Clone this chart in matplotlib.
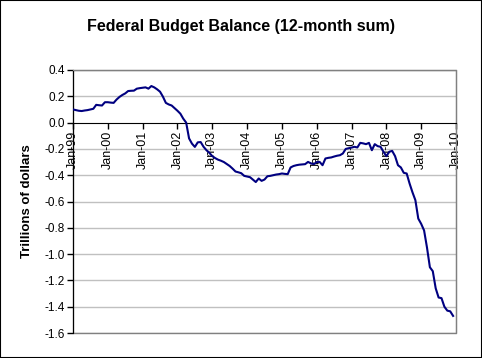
import matplotlib.pyplot as plt
from matplotlib.patches import Rectangle

plt.rcParams['font.family'] = ['Liberation Sans', 'DejaVu Sans']

# 12-month rolling sum of the federal budget balance, trillions of dollars, Jan-99 .. Dec-09
bal_1999 = [0.10, 0.095, 0.09, 0.088, 0.092, 0.095, 0.10, 0.105, 0.135, 0.132, 0.13, 0.155]
bal_2000 = [0.155, 0.152, 0.15, 0.175, 0.195, 0.21, 0.222, 0.24, 0.242, 0.243, 0.258, 0.262]
bal_2001 = [0.265, 0.268, 0.258, 0.278, 0.268, 0.253, 0.235, 0.197, 0.15, 0.138, 0.13, 0.11]
bal_2002 = [0.09, 0.068, 0.03, 0.0, -0.12, -0.16, -0.185, -0.15, -0.148, -0.184, -0.21, -0.23]
bal_2003 = [-0.255, -0.27, -0.282, -0.29, -0.30, -0.315, -0.33, -0.35, -0.372, -0.378, -0.385, -0.405]
bal_2004 = [-0.41, -0.415, -0.433, -0.452, -0.425, -0.443, -0.433, -0.408, -0.405, -0.40, -0.395, -0.392]
bal_2005 = [-0.387, -0.39, -0.392, -0.341, -0.33, -0.324, -0.32, -0.318, -0.316, -0.299, -0.31, -0.316]
bal_2006 = [-0.30, -0.299, -0.324, -0.273, -0.268, -0.265, -0.258, -0.252, -0.248, -0.235, -0.20, -0.195]
bal_2007 = [-0.19, -0.184, -0.189, -0.154, -0.158, -0.164, -0.154, -0.21, -0.164, -0.179, -0.184, -0.222]
bal_2008 = [-0.255, -0.222, -0.215, -0.255, -0.324, -0.341, -0.382, -0.387, -0.463, -0.53, -0.59, -0.73]
bal_2009 = [-0.77, -0.82, -0.95, -1.10, -1.13, -1.26, -1.33, -1.335, -1.40, -1.43, -1.435, -1.47]

balance = (bal_1999 + bal_2000 + bal_2001 + bal_2002 + bal_2003 + bal_2004
           + bal_2005 + bal_2006 + bal_2007 + bal_2008 + bal_2009)
months = list(range(len(balance)))

year_labels = ["Jan-99", "Jan-00", "Jan-01", "Jan-02", "Jan-03", "Jan-04",
               "Jan-05", "Jan-06", "Jan-07", "Jan-08", "Jan-09", "Jan-10"]
y_ticks = [0.4, 0.2, 0.0, -0.2, -0.4, -0.6, -0.8, -1.0, -1.2, -1.4, -1.6]

fig = plt.figure(figsize=(4.82, 3.58), dpi=100)
ax = fig.add_axes([73 / 482, 1 - 333 / 358, (456 - 73) / 482, (333 - 70) / 358])

for v in y_ticks:
    if v != 0.0:
        ax.axhline(v, color="#c0c0c0", lw=1, zorder=0)

ax.plot(months, balance, color="#000080", lw=1.5, zorder=3)

ax.set_xlim(0, 132)
ax.set_ylim(-1.6, 0.4)

ax.spines["bottom"].set_position(("data", 0))
ax.spines["bottom"].set_color("black")
ax.spines["left"].set_color("black")
ax.spines["top"].set_color("#808080")
ax.spines["right"].set_color("#808080")
ax.add_patch(Rectangle((0, 0), 1, 1, transform=ax.transAxes, fill=False,
                       edgecolor="#808080", lw=1, zorder=1, clip_on=False))
ax.tick_params(axis="both", direction="out", length=4, width=1, color="black", pad=2)

ax.set_yticks(y_ticks)
ax.set_yticklabels(["%.1f" % v for v in y_ticks], fontsize=8.5)
ax.set_xticks(range(0, 133, 12))
ax.set_xticklabels(year_labels, fontsize=9)
for lab in ax.get_xticklabels():
    lab.set_rotation(90)
    lab.set_ha("center")
    lab.set_va("top")

ax.set_ylabel("Trillions of dollars", fontsize=9.5, fontweight="bold", labelpad=8)

fig.text(0.5, 1 - 26 / 358, "Federal Budget Balance (12-month sum)", ha="center",
         va="center", fontsize=11.5, fontweight="bold")

fig.add_artist(Rectangle((0, 0), 1, 1, transform=fig.transFigure, fill=False,
                         edgecolor="black", lw=1.5))

fig.savefig("out.png", dpi=100)
